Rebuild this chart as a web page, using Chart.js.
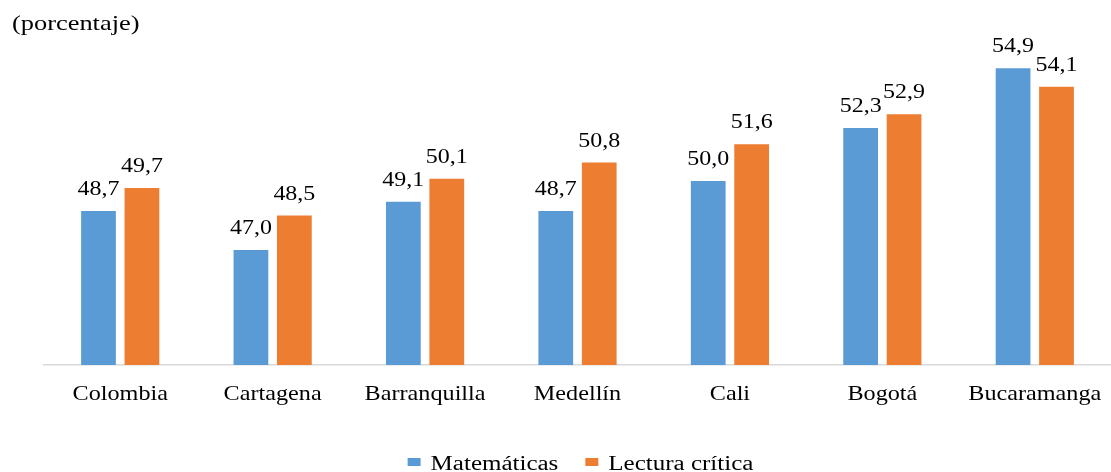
<!DOCTYPE html>
<html>
<head>
<meta charset="utf-8">
<script src="https://cdn.jsdelivr.net/npm/chart.js@4.4.0/dist/chart.umd.min.js"></script>
<style>
  html, body { margin: 0; padding: 0; background: #ffffff; }
  #wrap { width: 1111px; height: 472px; position: relative; }
</style>
</head>
<body>
<div id="wrap"><canvas id="c"></canvas></div>
<script>
const categories = ["Colombia", "Cartagena", "Barranquilla", "Medellín", "Cali", "Bogotá", "Bucaramanga"];
const matematicas = [48.7, 47.0, 49.1, 48.7, 50.0, 52.3, 54.9];
const lecturaCritica = [49.7, 48.5, 50.1, 50.8, 51.6, 52.9, 54.1];
const seriesNames = ["Matemáticas", "Lectura crítica"];
const seriesColors = ["#5B9BD5", "#ED7D31"];
const unitLabel = "(porcentaje)";

const FONT = "'Liberation Serif', 'Times New Roman', serif";

function stretchedText(ctx, text, x, y, size, sx, align) {
  ctx.save();
  ctx.font = size + "px " + FONT;
  ctx.textAlign = align;
  ctx.textBaseline = "alphabetic";
  ctx.fillStyle = "#000000";
  ctx.translate(x, y);
  ctx.scale(sx, 1);
  ctx.fillText(text, 0, 0);
  ctx.restore();
}
function stretchedWidth(ctx, text, size, sx) {
  ctx.save();
  ctx.font = size + "px " + FONT;
  const w = ctx.measureText(text).width * sx;
  ctx.restore();
  return w;
}

const textPlugin = {
  id: 'texts',
  afterDraw(chart) {
    const ctx = chart.ctx;
    const area = chart.chartArea;
    // value labels
    chart.data.datasets.forEach((ds, di) => {
      const meta = chart.getDatasetMeta(di);
      meta.data.forEach((bar, i) => {
        const txt = ds.data[i].toFixed(1).replace('.', ',');
        stretchedText(ctx, txt, bar.x, bar.y - 16, 22, 1.09, 'center');
      });
    });
    // category labels
    const xs = chart.scales.x;
    categories.forEach((c, i) => {
      stretchedText(ctx, c, xs.getPixelForValue(i), area.bottom + 35, 22, 1.1, 'center');
    });
    // unit label
    stretchedText(ctx, unitLabel, 12, 30, 22, 1.2, 'left');
    // legend
    const lsize = 20, lsx = 1.25, boxW = 13, boxH = 8, boxGap = 10, itemGap = 27;
    const widths = seriesNames.map(n => stretchedWidth(ctx, n, lsize, lsx));
    const total = widths.reduce((a, w) => a + boxW + boxGap + w, 0) + itemGap * (seriesNames.length - 1);
    let x = (area.left + area.right) / 2 - total / 2 + 3;
    const baseY = 470;
    seriesNames.forEach((n, i) => {
      ctx.save();
      ctx.fillStyle = seriesColors[i];
      ctx.fillRect(x, baseY - 12, boxW, boxH);
      ctx.restore();
      x += boxW + boxGap;
      stretchedText(ctx, n, x, baseY, lsize, lsx, 'left');
      x += widths[i] + itemGap;
    });
  }
};

new Chart(document.getElementById('c'), {
  type: 'bar',
  data: {
    labels: categories,
    datasets: [
      { label: seriesNames[0], data: matematicas, backgroundColor: seriesColors[0], borderWidth: 0 },
      { label: seriesNames[1], data: lecturaCritica, backgroundColor: seriesColors[1], borderWidth: 0 }
    ]
  },
  options: {
    responsive: true,
    maintainAspectRatio: false,
    animation: false,
    devicePixelRatio: 1,
    layout: { padding: { left: 44, right: -4, top: 43, bottom: 99 } },
    datasets: { bar: { categoryPercentage: 0.57, barPercentage: 0.8 } },
    plugins: {
      legend: { display: false },
      tooltip: { enabled: false },
      title: { display: false }
    },
    scales: {
      x: {
        grid: { display: false },
        border: { display: true, color: '#d9d9d9', width: 1.5 },
        ticks: { display: false }
      },
      y: {
        display: false,
        min: 42,
        max: 56
      }
    }
  },
  plugins: [textPlugin]
});
</script>
</body>
</html>
